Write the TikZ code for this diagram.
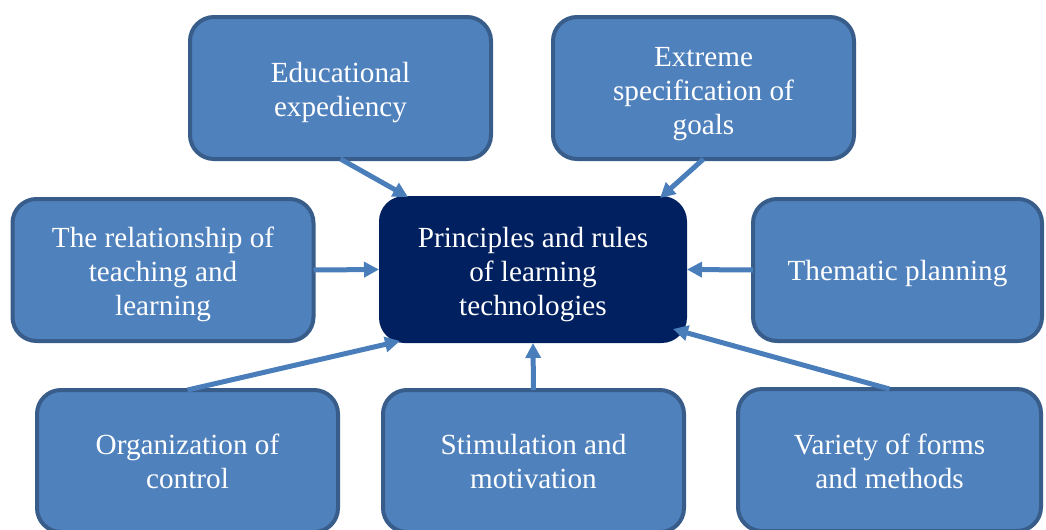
\documentclass[tikz,border=0pt]{standalone}
\usepackage{fontspec}
\setmainfont{Liberation Serif}
\usetikzlibrary{arrows.meta}
\definecolor{boxfill}{HTML}{4F81BD}
\definecolor{boxline}{HTML}{385D8A}
\definecolor{navyc}{HTML}{002060}
\definecolor{arrowc}{HTML}{4A7EBB}
\begin{document}
\begin{tikzpicture}[x=0.75pt,y=-0.75pt,
  idea/.style={draw=boxline, fill=boxfill, line width=3pt, rounded corners=18pt,
    inner sep=0pt, outer sep=0pt, minimum width=225.75pt, minimum height=106.5pt},
  core/.style={fill=navyc, rounded corners=19pt, inner sep=0pt, outer sep=0pt,
    minimum width=231pt, minimum height=110.25pt},
  txt/.style={text=white, align=center, font=\fontsize{21.9}{25.5}\selectfont, inner sep=0pt},
  link/.style={draw=arrowc, line width=3.75pt, -{Triangle[length=11.25pt,width=11.25pt]}}]
\useasboundingbox (0,0) rectangle (1046,529);
\clip (0,0) rectangle (1046,529);

\node[core] (cen) at (533,269.5) {};
\node[idea] (edu) at (340.5,88) {};
\node[idea] (ext) at (703.5,88) {};
\node[idea] (rel) at (163,270) {};
\node[idea, minimum width=216.75pt] (them) at (897.5,270) {};
\node[idea] (org) at (187.5,461) {};
\node[idea] (stim) at (533.5,461) {};
\node[idea, minimum width=227.25pt] (var) at (889.5,460) {};

\node[txt] (cen-t) at ([shift={(0,5)}]cen.center) {Principles and rules\\of learning\\technologies};
\node[txt] (edu-t) at ([shift={(0,5)}]edu.center) {Educational\\expediency};
\node[txt] (ext-t) at ([shift={(0,6)}]ext.center) {Extreme\\specification of\\goals};
\node[txt] (rel-t) at ([shift={(0,4)}]rel.center) {The relationship of\\teaching and\\learning};
\node[txt] (them-t) at ([shift={(0,4)}]them.center) {Thematic planning};
\node[txt] (org-t) at (org.center) {Organization of\\control};
\node[txt] (stim-t) at ([shift={(0,1)}]stim.center) {Stimulation and\\motivation};
\node[txt] (var-t) at ([shift={(0,1)}]var.center) {Variety of forms\\and methods};

\draw[link] (edu.south) -- ([shift={(29,1)}]cen.north west);
\draw[link] (ext.south) -- ([shift={(-27,2)}]cen.north east);
\draw[link] (rel.east) -- (cen.west);
\draw[link] (them.west) -- (cen.east);
\draw[link] (org.north) -- ([shift={(21,-2)}]cen.south west);
\draw[link] (stim.north) -- (cen.south);
\draw[link] (var.north) -- ([shift={(-14,-14)}]cen.south east);
\end{tikzpicture}
\end{document}
